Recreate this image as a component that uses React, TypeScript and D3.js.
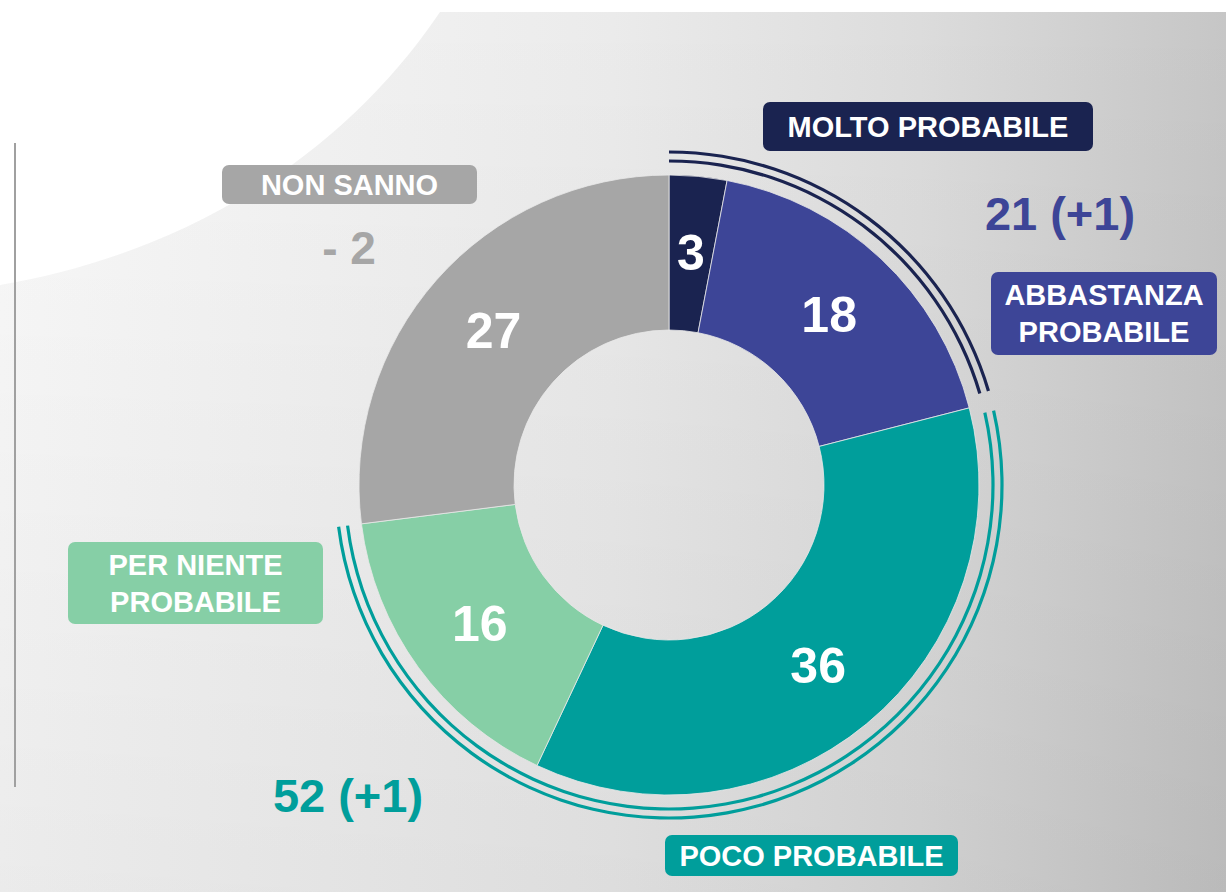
import React from "react";
import * as d3 from "d3";

const categories = ["MOLTO PROBABILE", "ABBASTANZA PROBABILE", "POCO PROBABILE", "PER NIENTE PROBABILE", "NON SANNO"];
const values = [3, 18, 36, 16, 27];
const colors = ["#1a2350", "#3d4597", "#009e9b", "#86cfa6", "#a6a6a6"];

// grouped totals around the ring
const groupLabels = ["21 (+1)", "52 (+1)", "- 2"];
const groupColors = ["#3d4597", "#009e9b", "#a6a6a6"];
const groupLineColors = ["#1a2350", "#009e9b"];
const groupRanges = [[0, 21], [21, 73]];

const W = 1226, H = 892;
const cx = 669, cy = 485;
const rOuter = 310, rInner = 155;

type Box = { lines: string[]; x: number; y: number; w: number; h: number; fill: string };
const boxes: Box[] = [
  { lines: ["MOLTO PROBABILE"], x: 763, y: 102, w: 330, h: 49, fill: colors[0] },
  { lines: ["ABBASTANZA", "PROBABILE"], x: 991, y: 272, w: 226, h: 83, fill: colors[1] },
  { lines: ["POCO PROBABILE"], x: 665, y: 835, w: 293, h: 41, fill: colors[2] },
  { lines: ["PER NIENTE", "PROBABILE"], x: 68, y: 542, w: 255, h: 82, fill: colors[3] },
  { lines: ["NON SANNO"], x: 222, y: 165, w: 255, h: 39, fill: colors[4] },
];
const groupPos = [[1060, 213], [348, 795], [349, 247]];

export default function App() {
  const pie = d3.pie<number>().sort(null).value((d) => d);
  const arcs = pie(values);
  const arcGen = d3.arc<d3.PieArcDatum<number>>().innerRadius(rInner).outerRadius(rOuter);
  const labelArc = d3.arc<d3.PieArcDatum<number>>().innerRadius(2 * 234).outerRadius(0);
  const total = d3.sum(values);
  const angle = d3.scaleLinear().domain([0, total]).range([0, 2 * Math.PI]);
  const deg = Math.PI / 180;
  const gaps = [[0, 2 * deg], [1.5 * deg, 0]];
  const ring = (r: number, a0: number, a1: number) =>
    d3.arc()({ innerRadius: r - 1.6, outerRadius: r + 1.6, startAngle: a0, endAngle: a1 }) as string;
  const font = "'Liberation Sans', Arial, sans-serif";

  return (
    <svg width={W} height={H} style={{ position: "absolute", left: 0, top: 0 }}>
      <defs>
        <linearGradient id="bg" x1="0" y1="0" x2="1" y2="0">
          <stop offset="0" stopColor="#fafafa" />
          <stop offset="0.5" stopColor="#ebebeb" />
          <stop offset="0.75" stopColor="#dcdcdc" />
          <stop offset="1" stopColor="#c6c6c6" />
        </linearGradient>
        <linearGradient id="shade" x1="0" y1="0" x2="0" y2="1">
          <stop offset="0" stopColor="#000" stopOpacity="0" />
          <stop offset="1" stopColor="#000" stopOpacity="0.06" />
        </linearGradient>
      </defs>
      <rect x={0} y={0} width={W} height={H} fill="#ffffff" />
      <path d="M0,285 C160,258 330,175 440,12 L1226,12 L1226,892 L0,892 Z" fill="url(#bg)" />
      <path d="M0,285 C160,258 330,175 440,12 L1226,12 L1226,892 L0,892 Z" fill="url(#shade)" />
      <line x1={15} x2={15} y1={143} y2={787} stroke="#a0a0a0" strokeWidth={2} />
      <g transform={`translate(${cx},${cy})`}>
        {arcs.map((a, i) => (
          <path key={i} d={arcGen(a) as string} fill={colors[i]} stroke="#e8e8e8" strokeWidth={0.8} />
        ))}
        {groupRanges.map((g, i) => {
          const a0 = angle(g[0]) + gaps[i][0];
          const a1 = angle(g[1]) - gaps[i][1];
          return (
            <g key={i}>
              <path d={ring(324, a0, a1)} fill={groupLineColors[i]} />
              <path d={ring(333, a0, a1)} fill={groupLineColors[i]} />
            </g>
          );
        })}
        {arcs.map((a, i) => {
          const [x, y] = labelArc.centroid(a);
          return (
            <text key={i} x={x} y={y} dy="0.36em" textAnchor="middle" fill="#ffffff"
              fontFamily={font} fontWeight="bold" fontSize={50}>
              {values[i]}
            </text>
          );
        })}
      </g>
      {boxes.map((b, i) => (
        <g key={i}>
          <rect x={b.x} y={b.y} width={b.w} height={b.h} rx={7} fill={b.fill} />
          {b.lines.map((l, j) => (
            <text key={j} x={b.x + b.w / 2}
              y={b.y + b.h / 2 + (j - (b.lines.length - 1) / 2) * 37} dy="0.36em"
              textAnchor="middle" fill="#ffffff" fontFamily={font} fontWeight="bold" fontSize={29}>
              {l}
            </text>
          ))}
        </g>
      ))}
      {groupLabels.map((g, i) => (
        <text key={i} x={groupPos[i][0]} y={groupPos[i][1]} dy="0.36em" textAnchor="middle"
          fill={groupColors[i]} fontFamily={font} fontWeight="bold" fontSize={i === 2 ? 46 : 47}>
          {g}
        </text>
      ))}
    </svg>
  );
}
